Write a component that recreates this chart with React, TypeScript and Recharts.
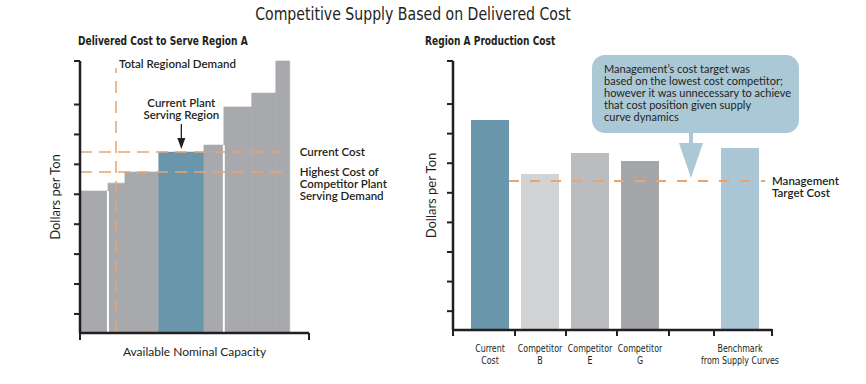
import React from 'react';
import {
  ComposedChart, Bar, Cell, XAxis, YAxis, ReferenceArea, ReferenceLine, ReferenceDot
} from 'recharts';

// ---- Delivered cost to serve Region A (supply curve) ----
const plantCapacity = [12.2, 7.4, 14.8, 19.7, 8.7, 12.2, 10.5, 6.1];
const plantCost = [52.2, 55.1, 59.2, 66.5, 69.1, 83.1, 88.2, 100];
const currentPlantIndex = 3;
const plantGroupBreaks = [0, 4]; // white gap after these plants
const regionalDemand = 15.7;
const demandLineTop = 97.4;
const currentCost = 66.5;
const highestCompetitorCost = 59.2;

// ---- Region A production cost ----
const costCategories = ['Current Cost', 'Competitor B', 'Competitor E', 'Competitor G', 'Benchmark from Supply Curves'];
const costSlots = [0, 1, 2, 3, 5];
const productionCost = [78.1, 58.0, 65.8, 62.8, 67.7];
const slotBoundaries = [-0.74, 0.5, 1.52, 2.54, 3.58, 4.48, 5.64];
const targetCost = 55.4;
const targetLineFrom = 0.38;
const targetLineTo = 5.5;
const calloutSlot = 4;
const calloutLines = [
  'Management\u2019s cost target was',
  'based on the lowest cost competitor;',
  'however it was unnecessary to achieve',
  'that cost position given supply',
  'curve dynamics',
];

const yTicks = [7, 18, 29, 40, 51, 62, 73, 84, 92, 100];

const INK = '#231f20';
const ORANGE = '#eba46c';
const GRAY = '#a7a9ac';
const BLUE = '#6996ab';
const costColors = ['#6a97ac', '#d1d3d5', '#bbbcc0', '#a5a6aa', '#abc7d5'];
const CALLOUT = '#abc8d6';
const FONT = "Lato, 'Open Sans', sans-serif";
const NARROW = "'Liberation Sans Narrow', 'DejaVu Sans Condensed', 'Arial Narrow', sans-serif";

const plants = plantCost.map((cost, i) => {
  const start = plantCapacity.slice(0, i).reduce((a, b) => a + b, 0);
  return { start, end: start + plantCapacity[i], cost };
});
const totalCapacity = plants[plants.length - 1].end;

const costData = costCategories.map((name, i) => ({ name, slot: costSlots[i], cost: productionCost[i] }));

const axisLine = { stroke: INK, strokeWidth: 2.5 };
const tickLine = { stroke: INK, strokeWidth: 2 };
const NoLabel = () => <g />;

const SideLabel = (props: any) => {
  const { viewBox, lines, gap } = props;
  const x = viewBox.x + viewBox.width + gap;
  return (
    <text x={x} y={viewBox.y} fill={INK} fontSize={11.5} fontWeight={600} fontFamily={FONT}>
      {lines.map((l: string, i: number) => (
        <tspan key={i} x={x} dy={i === 0 ? 4 : 12}>{l}</tspan>
      ))}
    </text>
  );
};

const DemandLabel = (props: any) => {
  const { viewBox } = props;
  return (
    <text x={viewBox.x + 3} y={viewBox.y} fill={INK} fontSize={11.5} fontWeight={600} fontFamily={FONT}>
      Total Regional Demand
    </text>
  );
};

const PlantCallout = (props: any) => {
  const { cx, cy } = props;
  return (
    <g>
      <text x={cx} textAnchor="middle" fill={INK} fontSize={11.5} fontWeight={600} fontFamily={FONT}>
        <tspan x={cx} y={cy - 45}>Current Plant</tspan>
        <tspan x={cx} y={cy - 33}>Serving Region</tspan>
      </text>
      <line x1={cx} y1={cy - 28} x2={cx} y2={cy - 12} stroke={INK} strokeWidth={1.3} />
      <path d={`M${cx - 4},${cy - 14} L${cx + 4},${cy - 14} L${cx},${cy - 3} Z`} fill={INK} />
    </g>
  );
};

const TargetCallout = (props: any) => {
  const { cx, cy } = props;
  return (
    <g>
      <rect x={cx - 98} y={cy - 126} width={207} height={78} rx={13} fill={CALLOUT} />
      <rect x={cx - 1} y={cy - 49} width={4} height={12} fill={CALLOUT} />
      <path d={`M${cx - 11},${cy - 38} L${cx + 13},${cy - 38} L${cx + 1},${cy - 3} Z`} fill={CALLOUT} />
      <text fill={INK} fontSize={11} fontFamily={FONT}>
        {calloutLines.map((l, i) => (
          <tspan key={i} x={cx - 86} y={cy - 108 + i * 12}>{l}</tspan>
        ))}
      </text>
    </g>
  );
};

const CostTick = (props: any) => {
  const { x, y, payload } = props;
  const idx = costSlots.indexOf(payload.value);
  if (idx < 0) {
    return <line x1={x} y1={y - 7} x2={x} y2={y} stroke={INK} strokeWidth={2} />;
  }
  const name = costCategories[idx];
  const cut = name.indexOf(' ');
  return (
    <g transform={`translate(${x},${y}) scale(0.8,1)`}>
      <text x={0} textAnchor="middle" fill={INK} fontSize={11} fontFamily={NARROW}>
        <tspan x={0} y={16}>{name.slice(0, cut)}</tspan>
        <tspan x={0} y={28}>{name.slice(cut + 1)}</tspan>
      </text>
    </g>
  );
};

const yLabel = {
  value: 'Dollars per Ton', angle: -90, position: 'center' as const,
  fill: INK, fontSize: 13, fontFamily: FONT,
};

const headStyle: React.CSSProperties = {
  position: 'absolute', top: 34, fontSize: 12, lineHeight: '14px', fontWeight: 700,
  fontFamily: NARROW, color: INK, whiteSpace: 'nowrap', transform: 'scaleX(0.84)', transformOrigin: 'left center',
};

export default function App() {
  return (
    <div style={{ position: 'absolute', left: 0, top: 0, width: 866, height: 384, background: '#fff', fontFamily: FONT }}>
      <div style={{
        position: 'absolute', left: 0, top: 3, width: 826, textAlign: 'center', fontSize: 18, lineHeight: '22px',
        fontFamily: NARROW, color: INK, transform: 'scaleX(0.87)', transformOrigin: '413px 50%',
      }}>
        Competitive Supply Based on Delivered Cost
      </div>
      <div style={{ ...headStyle, left: 78 }}>Delivered Cost to Serve Region A</div>
      <div style={{ ...headStyle, left: 425 }}>Region A Production Cost</div>

      <div style={{ position: 'absolute', left: 0, top: 0 }}>
        <ComposedChart width={420} height={384} data={plants} margin={{ top: 61, right: 111, bottom: 13, left: 30 }}>
          <XAxis
            type="number" dataKey="start" domain={[0, 100]} ticks={[0, 100]} allowDataOverflow
            tick={NoLabel} tickSize={7} axisLine={axisLine} tickLine={tickLine} height={38}
            label={{ value: 'Available Nominal Capacity', position: 'center', fill: INK, fontSize: 12, fontFamily: FONT }}
          />
          <YAxis
            type="number" domain={[0, 100]} ticks={yTicks} allowDataOverflow
            tick={NoLabel} tickSize={6} axisLine={axisLine} tickLine={tickLine} width={50}
            label={yLabel}
          />
          {plants.map((p, i) => (
            <ReferenceArea
              key={i} x1={p.start} x2={p.end} y1={0} y2={p.cost}
              fill={i === currentPlantIndex ? BLUE : GRAY} fillOpacity={1}
              stroke={i === currentPlantIndex ? BLUE : GRAY} strokeWidth={0.6} ifOverflow="visible"
            />
          ))}
          {plantGroupBreaks.map((i) => (
            <ReferenceLine
              key={i}
              segment={[{ x: plants[i].end, y: 0 }, { x: plants[i].end, y: Math.min(plants[i].cost, plants[i + 1].cost) }]}
              stroke="#fff" strokeWidth={2}
            />
          ))}
          <ReferenceLine
            segment={[{ x: regionalDemand, y: 0 }, { x: regionalDemand, y: demandLineTop }]}
            stroke={ORANGE} strokeWidth={1.5} strokeDasharray="12 8"
            label={{ content: (p: any) => <DemandLabel {...p} /> }}
          />
          <ReferenceLine
            segment={[{ x: 0, y: currentCost }, { x: totalCapacity, y: currentCost }]}
            stroke={ORANGE} strokeWidth={1.5} strokeDasharray="12 7"
            label={{ content: (p: any) => <SideLabel {...p} lines={['Current Cost']} gap={10} /> }}
          />
          <ReferenceLine
            segment={[{ x: 0, y: highestCompetitorCost }, { x: totalCapacity, y: highestCompetitorCost }]}
            stroke={ORANGE} strokeWidth={1.5} strokeDasharray="12 7"
            label={{ content: (p: any) => <SideLabel {...p} lines={['Highest Cost of', 'Competitor Plant', 'Serving Demand']} gap={10} /> }}
          />
          <ReferenceDot
            x={(plants[currentPlantIndex].start + plants[currentPlantIndex].end) / 2}
            y={currentCost} r={0} shape={(p: any) => <PlantCallout {...p} />}
          />
        </ComposedChart>
      </div>

      <div style={{ position: 'absolute', left: 400, top: 0 }}>
        <ComposedChart width={466} height={384} data={costData} margin={{ top: 61, right: 94, bottom: 14, left: 9 }}>
          <XAxis
            type="number" dataKey="slot" domain={[slotBoundaries[0], slotBoundaries[slotBoundaries.length - 1]]}
            ticks={[...slotBoundaries, ...costSlots]} interval={0} allowDataOverflow
            tick={<CostTick />} tickLine={false} tickSize={6} tickMargin={0} axisLine={axisLine} height={40}
          />
          <YAxis
            type="number" domain={[0, 100]} ticks={yTicks} allowDataOverflow
            tick={NoLabel} tickSize={6} axisLine={axisLine} tickLine={tickLine} width={44}
            label={yLabel}
          />
          <Bar dataKey="cost" barSize={38} isAnimationActive={false}>
            {costData.map((d, i) => <Cell key={d.name} fill={costColors[i]} />)}
          </Bar>
          <ReferenceLine
            segment={[{ x: targetLineFrom, y: targetCost }, { x: targetLineTo, y: targetCost }]}
            stroke={ORANGE} strokeWidth={2} strokeDasharray="10 11"
            label={{ content: (p: any) => <SideLabel {...p} lines={['Management', 'Target Cost']} gap={7} /> }}
          />
          <ReferenceDot x={calloutSlot} y={targetCost} r={0} shape={(p: any) => <TargetCallout {...p} />} />
        </ComposedChart>
      </div>
    </div>
  );
}
